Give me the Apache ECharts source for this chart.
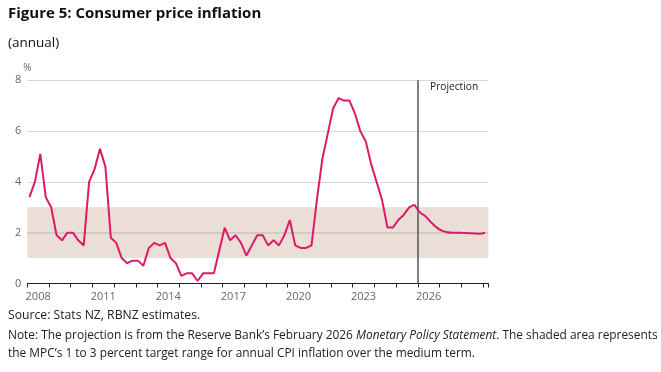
<!DOCTYPE html>
<html>
<head>
<meta charset="utf-8">
<script src="https://cdn.jsdelivr.net/npm/echarts@6/dist/echarts.min.js"></script>
<style>html,body{margin:0;padding:0;background:#fff;}#c{width:661px;height:372px;}</style>
</head>
<body>
<div id="c"></div>
<script>
// Quarterly annual CPI inflation, starting March 2008 quarter
const startYear = 2008;
const actual = [
  3.4, 4.0, 5.1, 3.4,   // 2008
  3.0, 1.9, 1.7, 2.0,   // 2009
  2.0, 1.7, 1.5, 4.0,   // 2010
  4.5, 5.3, 4.6, 1.8,   // 2011
  1.6, 1.0, 0.8, 0.9,   // 2012
  0.9, 0.7, 1.4, 1.6,   // 2013
  1.5, 1.6, 1.0, 0.8,   // 2014
  0.3, 0.4, 0.4, 0.1,   // 2015
  0.4, 0.4, 0.4, 1.3,   // 2016
  2.2, 1.7, 1.9, 1.6,   // 2017
  1.1, 1.5, 1.9, 1.9,   // 2018
  1.5, 1.7, 1.5, 1.9,   // 2019
  2.5, 1.5, 1.4, 1.4,   // 2020
  1.5, 3.3, 4.9, 5.9,   // 2021
  6.9, 7.3, 7.2, 7.2,   // 2022
  6.7, 6.0, 5.6, 4.7,   // 2023
  4.0, 3.3, 2.2, 2.2,   // 2024
  2.5, 2.7, 3.0, 3.1    // 2025
];
// Projection, starting March 2026 quarter
const projection = [2.8, 2.65, 2.42, 2.22, 2.08, 2.02, 2.0, 2.0, 1.99, 1.98, 1.97, 1.96, 2.0];
const yTicks = [0, 2, 4, 6, 8];
const labelYears = [2008, 2011, 2014, 2017, 2020, 2023, 2026];
const targetBand = [1, 3];
const projectionStart = 2026;

function qPos(i) { return startYear + i * 0.25 + 0.1; }
const actualData = actual.map((v, i) => [qPos(i), v]);
const projData = [[qPos(actual.length - 1), actual[actual.length - 1]]]
  .concat(projection.map((v, j) => [qPos(actual.length + j), v]));

const chart = echarts.init(document.getElementById('c'));
const FONT = 'Open Sans';
const lineColor = '#dc1a68';
chart.setOption({
  animation: false,
  textStyle: { fontFamily: FONT },
  grid: { left: 27.3, right: 172.7, top: 80.3, bottom: 88.5 },
  xAxis: [{
    type: 'value', min: 2008, max: 2029.25, interval: 1,
    axisLine: { show: true, lineStyle: { color: '#222', width: 1 } },
    axisTick: { show: true, length: 4, lineStyle: { color: '#222' } },
    axisLabel: { show: false },
    splitLine: { show: false }
  }, {
    type: 'value', min: 2008, max: 2029.25, interval: 0.5, position: 'bottom',
    axisLine: { show: false }, axisTick: { show: false }, splitLine: { show: false },
    axisLabel: {
      color: '#666', fontSize: 11, fontFamily: FONT, margin: 8,
      formatter: function (v) {
        const f = Math.floor(v + 1e-9);
        if (Math.abs(v - f - 0.5) < 1e-6 && labelYears.indexOf(f) >= 0) return String(f);
        return '';
      }
    }
  }],
  yAxis: {
    type: 'value', min: yTicks[0], max: yTicks[yTicks.length - 1], interval: 2,
    name: '%', nameLocation: 'end', nameGap: 7,
    nameTextStyle: { color: '#666', fontSize: 10, fontFamily: FONT },
    axisLine: { show: false }, axisTick: { show: false },
    axisLabel: { color: '#666', fontSize: 11, fontFamily: FONT, margin: 6 },
    splitLine: { show: true, lineStyle: { color: '#dadada', width: 1 } }
  },
  series: [{
    type: 'line', xAxisIndex: 0, data: actualData, showSymbol: false,
    lineStyle: { color: lineColor, width: 2 }, z: 5,
    markArea: {
      silent: true, itemStyle: { color: '#eaded7' },
      data: [[{ yAxis: targetBand[0] }, { yAxis: targetBand[1] }]]
    },
    markLine: {
      silent: true, symbol: 'none', label: { show: false },
      data: [
        { yAxis: 2, lineStyle: { color: '#cbc3be', width: 1.5, type: 'solid' } },
        { xAxis: projectionStart, lineStyle: { color: '#555', width: 1.5, type: 'solid' } }
      ]
    }
  }, {
    type: 'line', xAxisIndex: 0, data: projData, showSymbol: false, smooth: 0.4,
    lineStyle: { color: lineColor, width: 2 }, z: 5
  }],
  graphic: [
    { type: 'text', left: 8, top: 6, style: { text: 'Figure 5: Consumer price inflation', font: 'bold 15px "Open Sans"', fill: '#111' } },
    { type: 'text', left: 8, top: 36, style: { text: '(annual)', font: '13.5px "Open Sans"', fill: '#111' } },
    { type: 'text', left: 430, top: 82, style: { text: 'Projection', font: '10.2px "Open Sans"', fill: '#222' } },
    { type: 'text', left: 8, top: 310, style: { text: 'Source: Stats NZ, RBNZ estimates.', font: '12.2px "Open Sans"', fill: '#222' } },
    { type: 'text', left: 8, top: 330, style: {
      rich: {
        n: { font: '11.9px "Open Sans"', fill: '#222' },
        i: { font: 'italic 11.9px "Open Sans"', fill: '#222' }
      },
      text: '{n|Note: The projection is from the Reserve Bank\u2019s February 2026 }{i|Monetary Policy Statement}{n|. The shaded area represents}'
    } },
    { type: 'text', left: 8, top: 348, style: { text: 'the MPC\u2019s 1 to 3 percent target range for annual CPI inflation over the medium term.', font: '11.9px "Open Sans"', fill: '#222' } }
  ]
});
</script>
</body>
</html>
